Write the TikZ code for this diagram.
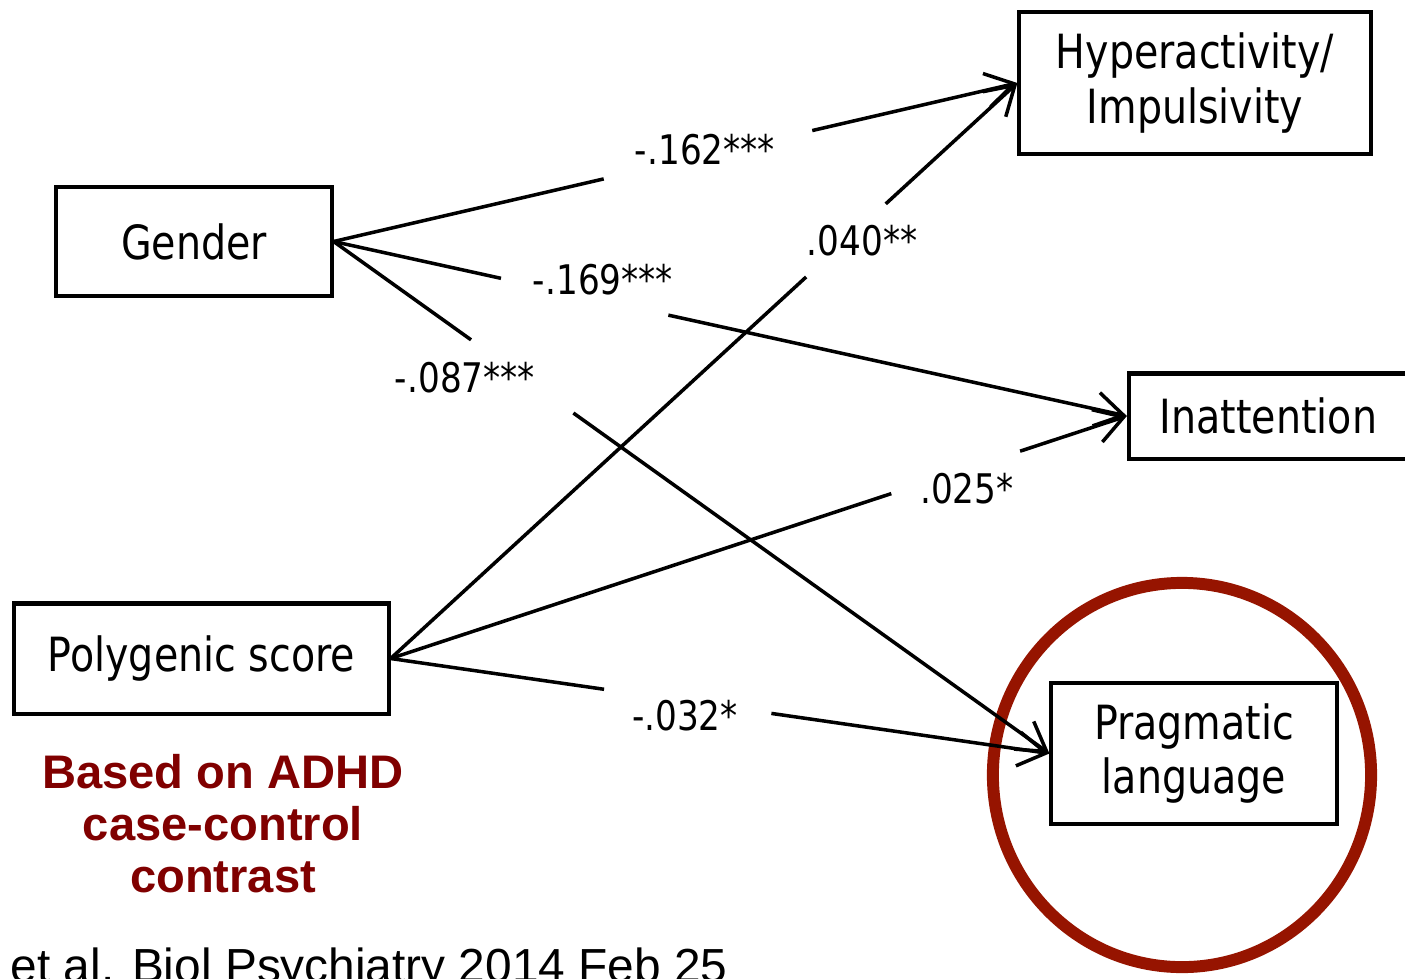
\documentclass[tikz,border=0pt]{standalone}
\usepackage{fontspec}
\usepackage{tikz}
\usetikzlibrary{arrows.meta,calc}
\newfontfamily\diagfont[FakeStretch=0.84]{DejaVu Sans}
\newfontfamily\slidefont{Liberation Sans}
\definecolor{NoteRed}{HTML}{800000}
\definecolor{RingRed}{HTML}{961400}

\begin{document}
\begin{tikzpicture}[
  x=0.01cm,y=-0.01cm,
  box/.style={draw=black,line width=1.15pt,inner sep=0pt,align=center,font=\diagfont\fontsize{13.4}{15.6}\selectfont},
  coef/.style={inner sep=0pt,font=\diagfont\fontsize{11.6}{13}\selectfont},
  note/.style={inner sep=0pt,align=center,text=NoteRed,font=\slidefont\bfseries\fontsize{13.4}{14.8}\selectfont},
  link/.style={line width=1pt,draw=black},
  arrow/.style={link,-{Straight Barb[length=2.8mm,width=3.4mm]}}
]
\useasboundingbox (0,0) rectangle (1405,978);
% ring round the outcome of interest
\draw[RingRed,line width=3.4pt] (1182,775) ellipse [x radius=1.89cm,y radius=1.92cm];

\node[box,minimum width=2.75cm,minimum height=1.09cm] (gender) at (194,241.5) {Gender};
\node[box,minimum width=3.74cm,minimum height=1.10cm] (poly) at (201.5,658.5) {Polygenic score};
\node[box,minimum width=3.51cm,minimum height=1.41cm] (hyper) at (1195,83) {Hyperactivity/\\Impulsivity};
\node[box,minimum width=2.79cm,minimum height=0.85cm] (inatt) at (1268.5,416) {Inattention};
\node[box,minimum width=2.85cm,minimum height=1.40cm] (prag) at (1194,753.5) {Pragmatic\\language};

% path coefficients
\node[coef] (c162) at (705,150) {-.162***};
\node[coef] (c169) at (603,280) {-.169***};
\node[coef] (c087) at (465,378) {-.087***};
\node[coef] (c040) at (862,241) {.040**};
\node[coef] (c025) at (967,489) {.025*};
\node[coef] (c032) at (685,716) {-.032*};

% gender paths
\draw[link] (gender.east) -- ($(gender.east)!.395!(hyper.west)$);
\draw[arrow] ($(gender.east)!.70!(hyper.west)$) -- (hyper.west);
\draw[link] (gender.east) -- ($(gender.east)!.211!(inatt.west)$);
\draw[arrow] ($(gender.east)!.422!(inatt.west)$) -- (inatt.west);
\draw[link] (gender.east) -- ($(gender.east)!.192!(prag.west)$);
\draw[arrow] ($(gender.east)!.335!(prag.west)$) -- (prag.west);
% polygenic score paths
\draw[link] (poly.east) -- ($(poly.east)!.663!(hyper.west)$);
\draw[arrow] ($(poly.east)!.79!(hyper.west)$) -- (hyper.west);
\draw[link] (poly.east) -- ($(poly.east)!.68!(inatt.west)$);
\draw[arrow] ($(poly.east)!.855!(inatt.west)$) -- (inatt.west);
\draw[link] (poly.east) -- ($(poly.east)!.324!(prag.west)$);
\draw[arrow] ($(poly.east)!.578!(prag.west)$) -- (prag.west);

\node[note] (basis) at (223,824) {Based on ADHD\\case-control\\contrast};
\node[inner sep=0pt,anchor=base west,font=\slidefont\fontsize{13.6}{16}\selectfont] (cite) at (10,982) {et al. Biol Psychiatry 2014 Feb 25};
\end{tikzpicture}
\end{document}
